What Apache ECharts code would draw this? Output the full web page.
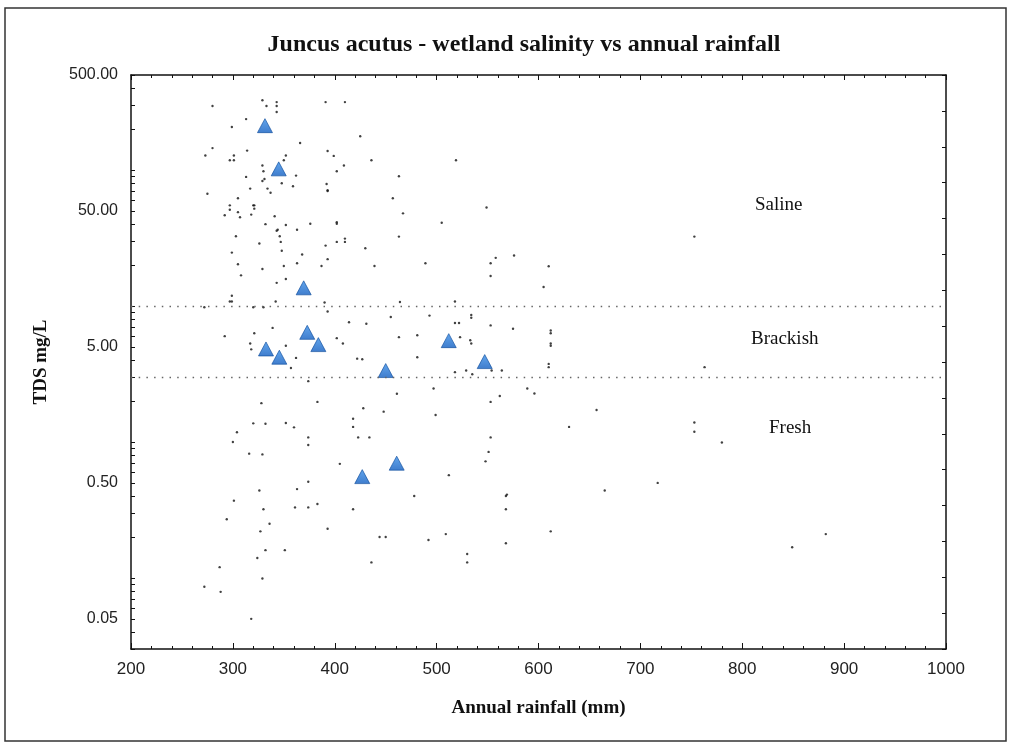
<!DOCTYPE html>
<html>
<head>
<meta charset="utf-8">
<script src="https://cdn.jsdelivr.net/npm/echarts@6/dist/echarts.min.js"></script>
<style>
  html, body { margin: 0; padding: 0; background: #fff; }
  #chart { width: 1013px; height: 753px; }
</style>
</head>
<body>
<div id="chart"></div>
<script>
// site points (black dots): annual rainfall (mm) and TDS
const siteRain = [
  280, 329, 333, 343, 343, 343, 391, 410, 313, 299, 425, 366, 280, 314, 393, 273, 301, 399, 297, 301,
  352, 350, 436, 409, 329, 330, 402, 362, 313, 463, 331, 329, 348, 359, 392, 393, 393, 317, 334, 337,
  275, 305, 457, 297, 297, 320, 321, 321, 305, 467, 292, 307, 318, 341, 332, 343, 344, 352, 363, 376,
  402, 402, 346, 347, 410, 410, 303, 326, 391, 402, 430, 463, 299, 348, 368, 393,
  305, 329, 350, 363, 387, 439, 308, 343, 352, 299, 297, 299, 342, 272, 320, 330, 390, 393, 464, 455,
  414, 431, 339, 321, 292, 317, 318, 352, 402, 408, 463, 481, 481, 362, 422, 427, 357, 374, 461, 328,
  383, 428, 448, 320, 332, 352, 360, 418, 418, 304, 423, 434, 374, 374, 300,
  316, 329, 405, 374, 326, 363, 478, 301, 361, 374, 383, 330, 418, 294, 336, 327, 393, 332, 351, 444,
  450, 324, 436, 287, 329, 272, 288, 318,
  519, 549, 505, 753, 558, 576,
  489, 553, 553, 610, 605, 518, 493, 534, 534, 518, 522, 553, 575, 612, 612, 523, 533, 534, 612, 612,
  610, 610, 518, 529, 535, 554, 564, 497, 589, 596, 562, 553, 499, 657, 630, 753, 753, 553,
  551, 548, 512, 569, 568, 568, 665, 717, 492, 509, 612, 568, 530, 530,
  763, 780, 849, 882
];
const siteTds = [
  296, 326, 296, 316, 296, 267, 316, 316, 237, 207, 177, 158, 145, 139, 138, 128, 128, 127, 118, 118,
  128, 118, 118, 108, 108, 98, 98, 91, 89, 90, 86, 83, 80, 76, 79, 71, 70, 73, 73, 68,
  67, 62, 62, 55, 51, 55, 55, 52, 49, 48, 46.5, 45, 47, 45.7, 40, 35.8, 36.4, 39.4, 36.4, 40.3,
  41.3, 40.3, 32.6, 29.6, 31.3, 29.6, 32.6, 28.8, 27.8, 29.6, 26.6, 32.4, 24.7, 25.5, 23.9, 22.1,
  20.3, 18.7, 19.7, 20.6, 19.7, 19.7, 16.8, 14.8, 15.8, 11.9, 10.8, 10.8, 10.8, 9.8, 9.8, 9.8, 10.6, 9.1, 10.7, 8.3,
  7.6, 7.4, 6.9, 6.3, 6.0, 5.3, 4.8, 5.1, 5.8, 5.3, 5.9, 6.1, 4.2, 4.15, 4.1, 4.06, 3.5, 2.8, 2.26, 1.93,
  1.97, 1.77, 1.67, 1.37, 1.36, 1.38, 1.28, 1.48, 1.29, 1.18, 1.08, 1.08, 1.08, 0.95, 1.0,
  0.82, 0.81, 0.69, 0.51, 0.44, 0.45, 0.40, 0.37, 0.33, 0.33, 0.35, 0.32, 0.32, 0.27, 0.25, 0.22, 0.23, 0.16, 0.16, 0.20,
  0.20, 0.14, 0.13, 0.12, 0.099, 0.086, 0.079, 0.050,
  118, 53, 41, 32.4, 22.6, 23.5,
  20.6, 20.6, 16.6, 19.6, 13.8, 10.8, 8.5, 8.6, 8.2, 7.5, 7.5, 7.2, 6.8, 6.6, 6.3, 5.9, 5.6, 5.3, 5.3, 5.1,
  3.75, 3.55, 3.26, 3.35, 3.15, 3.35, 3.35, 2.47, 2.47, 2.27, 2.18, 1.97, 1.58, 1.72, 1.29, 1.39, 1.19, 1.08,
  0.845, 0.72, 0.57, 0.41, 0.40, 0.32, 0.44, 0.50, 0.19, 0.21, 0.22, 0.18, 0.15, 0.13,
  3.55, 0.99, 0.168, 0.21
];

// Juncus acutus sites (blue triangles)
const juncusRain = [331.5, 345, 369.5, 332.5, 345.6, 373, 383.9, 511.9, 450, 547.2, 427, 460.8];
const juncusTds = [212, 102, 13.6, 4.83, 4.2, 6.4, 5.2, 5.56, 3.35, 3.9, 0.556, 0.698];

// salinity class limits and labels
const classLimits = [10, 3];
const yLabelValues = [0.05, 0.5, 5, 50, 500];
const xTicks = [200, 300, 400, 500, 600, 700, 800, 900, 1000];

// log minor tick values 0.03 .. 500
const yTickValues = [];
for (let d = 0.01; d < 1000; d *= 10) {
  for (let m = 1; m <= 9; m++) {
    const v = +(m * d).toPrecision(3);
    if (v >= 0.03 && v <= 500) yTickValues.push(v);
  }
}

const sitePoints = siteRain.map((r, i) => [r, siteTds[i]]);
const juncusPoints = juncusRain.map((r, i) => [r, juncusTds[i]]);

const serif = '"Liberation Serif", "Times New Roman", serif';
const sans = '"Liberation Sans", Arial, sans-serif';

const chart = echarts.init(document.getElementById('chart'));

const option = {
  backgroundColor: '#fff',
  animation: false,
  title: {
    text: 'Juncus acutus - wetland salinity vs annual rainfall',
    left: 519,
    top: 28,
    textAlign: 'center',
    textStyle: { fontFamily: serif, fontWeight: 'bold', fontSize: 24, color: '#111' }
  },
  grid: { left: 131, right: 67, top: 75, bottom: 104 },
  xAxis: [
    {
      type: 'value', position: 'bottom', min: 200, max: 1000, interval: 100,
      axisLine: { lineStyle: { color: '#111', width: 1.5 } },
      axisTick: { inside: true, length: 6, lineStyle: { color: '#111' } },
      minorTick: { show: true, splitNumber: 5, length: 3, lineStyle: { color: '#111' } },
      splitLine: { show: false },
      axisLabel: {
        margin: 12, fontFamily: sans, fontSize: 17, color: '#222',
        formatter: v => xTicks.includes(v) ? String(v) : ''
      },
      name: 'Annual rainfall (mm)', nameLocation: 'middle', nameGap: 50,
      nameTextStyle: { fontFamily: serif, fontWeight: 'bold', fontSize: 19, color: '#111' }
    },
    {
      type: 'value', position: 'top', min: 200, max: 1000, interval: 100,
      axisLine: { lineStyle: { color: '#111', width: 1.5 } },
      axisTick: { inside: true, length: 5, lineStyle: { color: '#111' } },
      minorTick: { show: true, splitNumber: 5, length: 3, lineStyle: { color: '#111' } },
      splitLine: { show: false },
      axisLabel: { show: false }
    }
  ],
  yAxis: [
    {
      type: 'log', min: 0.03, max: 500, logBase: 10,
      axisLine: { lineStyle: { color: '#111', width: 1.5 } },
      axisTick: { inside: true, length: 4, customValues: yTickValues, lineStyle: { color: '#111' } },
      splitLine: { show: false },
      axisLabel: {
        margin: 13, fontFamily: sans, fontSize: 16, color: '#222',
        customValues: yLabelValues,
        formatter: v => Number(v).toFixed(2)
      },
      name: 'TDS mg/L', nameLocation: 'middle', nameGap: 80,
      nameTextStyle: { fontFamily: serif, fontWeight: 'bold', fontSize: 19, color: '#111' }
    },
    {
      type: 'value', position: 'right', min: 0, max: 16, interval: 1,
      axisLine: { show: true, lineStyle: { color: '#111', width: 1.5 } },
      axisTick: { show: true, inside: true, length: 4, lineStyle: { color: '#111' } },
      splitLine: { show: false },
      axisLabel: { show: false }
    }
  ],
  graphic: [
    {
      type: 'rect', silent: true, z: -1,
      shape: { x: 5, y: 8, width: 1001, height: 733 },
      style: { fill: 'none', stroke: '#333', lineWidth: 1.5 }
    },
    {
      type: 'text', left: 755, top: 196,
      style: { text: 'Saline', fontFamily: serif, fontSize: 19, fill: '#111' }
    },
    {
      type: 'text', left: 751, top: 330,
      style: { text: 'Brackish', fontFamily: serif, fontSize: 19, fill: '#111' }
    },
    {
      type: 'text', left: 769, top: 419,
      style: { text: 'Fresh', fontFamily: serif, fontSize: 19, fill: '#111' }
    }
  ],
  series: [
    {
      name: 'Sites',
      type: 'scatter',
      xAxisIndex: 0, yAxisIndex: 0,
      data: sitePoints,
      symbol: 'circle',
      symbolSize: 2.4,
      itemStyle: { color: '#111' },
      markLine: {
        silent: true,
        symbol: ['none', 'none'],
        label: { show: false },
        lineStyle: { type: [1.5, 6.2], color: '#666', width: 1.4 },
        data: classLimits.map(v => ({ yAxis: v }))
      }
    },
    {
      name: 'Juncus acutus',
      type: 'scatter',
      xAxisIndex: 0, yAxisIndex: 0,
      data: juncusPoints,
      symbol: 'triangle',
      symbolSize: [15, 14],
      z: 3,
      itemStyle: {
        color: new echarts.graphic.LinearGradient(0, 0, 0, 1, [
          { offset: 0, color: '#3a8fe8' },
          { offset: 1, color: '#0f5cc0' }
        ]),
        borderColor: '#0b4a9a',
        borderWidth: 0.8
      }
    }
  ]
};

chart.setOption(option);
</script>
</body>
</html>
